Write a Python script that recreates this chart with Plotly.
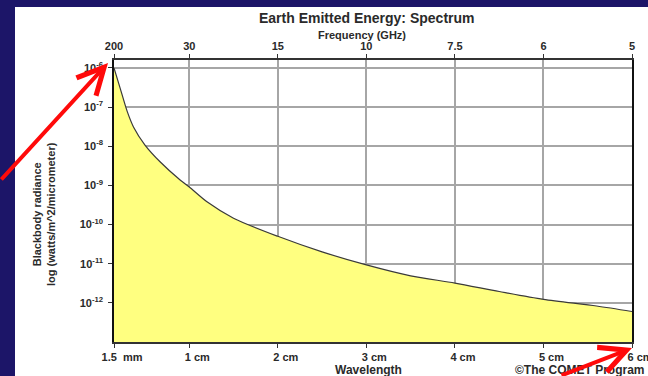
import plotly.graph_objects as go

# Spectrum of Earth's emitted energy in the microwave band
wavelength_cm = [0.15, 0.22, 0.30, 0.37, 0.50, 0.67, 0.90, 1.0, 1.2, 1.5,
                 2.0, 2.5, 3.0, 3.5, 4.0, 4.5, 5.0, 5.6, 6.0]
radiance = [1.0e-6, 3.0e-7, 7.6e-8, 3.1e-8, 1.07e-8, 4.0e-9, 1.35e-9, 9.1e-10,
            3.8e-10, 1.45e-10, 5.0e-11, 2.0e-11, 9.3e-12, 4.9e-12, 3.2e-12,
            1.95e-12, 1.23e-12, 8.3e-13, 6.0e-13]

# Bottom (wavelength) axis ticks
wl_ticks = [0.15, 1, 2, 3, 4, 5, 6]
wl_labels = ["1.5\u00a0\u00a0mm", "1 cm", "2 cm", "3 cm", "4 cm", "5 cm", "6 cm"]

# Top (frequency) axis ticks, GHz
freq_ghz = [200, 30, 15, 10, 7.5, 6, 5]
freq_labels = ["200", "30", "15", "10", "7.5", "6", "5"]

# Left (radiance) axis decades
rad_exponents = [-12, -11, -10, -9, -8, -7, -6]
rad_ticks = [10.0 ** e for e in rad_exponents]
rad_labels = [f"10<sup>{e}</sup>" for e in rad_exponents]

Y_LOG_RANGE = [-13.0, -5.80]
X_RANGE = [0.15, 6.0]
floor_val = 10 ** Y_LOG_RANGE[0]

W, H = 648, 376
ML, MR, MT, MB = 114, 16, 60, 34
PW, PH = W - ML - MR, H - MT - MB


def px(x):
    return (x - ML) / PW


def py(y):
    return (H - MB - y) / PH


FONT = "Liberation Sans, Arial, sans-serif"
TXT = "#2a2a2a"

fig = go.Figure()

# baseline for the filled area
fig.add_trace(go.Scatter(
    x=[X_RANGE[0], X_RANGE[1]], y=[floor_val, floor_val],
    mode="lines", line=dict(width=0), hoverinfo="skip", showlegend=False,
))
fig.add_trace(go.Scatter(
    x=wavelength_cm, y=radiance, mode="lines",
    line=dict(color="#3a3a3a", width=1.2, shape="spline", smoothing=0.8),
    fill="tonexty", fillcolor="#ffff80", showlegend=False,
))
# frequency axis carrier
fig.add_trace(go.Scatter(
    x=[30 / f for f in freq_ghz], y=[floor_val] * len(freq_ghz),
    xaxis="x2", mode="markers", marker=dict(opacity=0),
    hoverinfo="skip", showlegend=False,
))

tick_font = dict(family=FONT, size=11, color=TXT, weight="bold")

fig.update_layout(
    width=W, height=H,
    margin=dict(l=ML, r=MR, t=MT, b=MB, autoexpand=False),
    paper_bgcolor="#1c1568",
    plot_bgcolor="#ffffff",
    showlegend=False,
    xaxis=dict(
        range=X_RANGE, tickvals=wl_ticks, ticktext=wl_labels,
        ticks="outside", ticklen=4, tickcolor="#333", tickwidth=1.2,
        tickfont=tick_font, ticklabelshift=8, ticklabeloverflow="allow",
        showgrid=True, gridcolor="#a6a6a6", gridwidth=1.5,
        showline=True, linecolor="#333", linewidth=1.5,
        zeroline=False, automargin=False,
    ),
    xaxis2=dict(
        range=X_RANGE, overlaying="x", side="top", anchor="y",
        tickvals=[30 / f for f in freq_ghz], ticktext=freq_labels,
        ticks="outside", ticklen=4, tickcolor="#333", tickwidth=1.2,
        tickfont=tick_font, showgrid=False, ticklabeloverflow="allow",
        showline=True, linecolor="#333", linewidth=1.5,
        zeroline=False, automargin=False,
    ),
    yaxis=dict(
        type="log", range=Y_LOG_RANGE, tickvals=rad_ticks, ticktext=rad_labels,
        ticks="outside", ticklen=4, tickcolor="#333", tickwidth=1.2,
        tickfont=tick_font, ticklabelstandoff=3,
        showgrid=True, gridcolor="#a6a6a6", gridwidth=1.5,
        showline=True, linecolor="#111", linewidth=1.5, mirror=True,
        zeroline=False, automargin=False,
    ),
)

# white panel behind the chart
fig.add_shape(type="rect", xref="paper", yref="paper", layer="below",
              x0=px(15), x1=px(W + 5), y0=py(H + 5), y1=py(7),
              fillcolor="#ffffff", line=dict(width=0))

annotations = [
    dict(text="Earth Emitted Energy: Spectrum", x=px(367), y=py(18),
         font=dict(family=FONT, size=14, color=TXT, weight="bold")),
    dict(text="Frequency (GHz)", x=px(362), y=py(35),
         font=dict(family=FONT, size=11, color=TXT, weight="bold")),
    dict(text="Wavelength", x=px(368), y=py(370),
         font=dict(family=FONT, size=12, color=TXT, weight="bold")),
    dict(text="\u00a9The COMET Program", x=px(513), y=py(370), xanchor="left",
         font=dict(family=FONT, size=12, color=TXT, weight="bold")),
    dict(text="Blackbody radiance<br>log (watts/m^2/micrometer)",
         x=px(44), y=py(214), textangle=-90,
         font=dict(family=FONT, size=11, color=TXT, weight="bold")),
]
for a in annotations:
    a.update(xref="paper", yref="paper", showarrow=False)
    a.setdefault("xanchor", "center")
    a.setdefault("yanchor", "middle")
    fig.add_annotation(**a)

# red pointer arrows
for tip, tail in [((108, 63), (-2, 181)), ((632, 348), (560, 379))]:
    fig.add_annotation(
        x=px(tip[0]), y=py(tip[1]), xref="paper", yref="paper",
        ax=tail[0] - tip[0], ay=tail[1] - tip[1], text="",
        showarrow=True, arrowhead=5, arrowsize=1.3, arrowwidth=4,
        arrowcolor="#ff0a0a", standoff=0,
    )

fig.write_html("out.html")
